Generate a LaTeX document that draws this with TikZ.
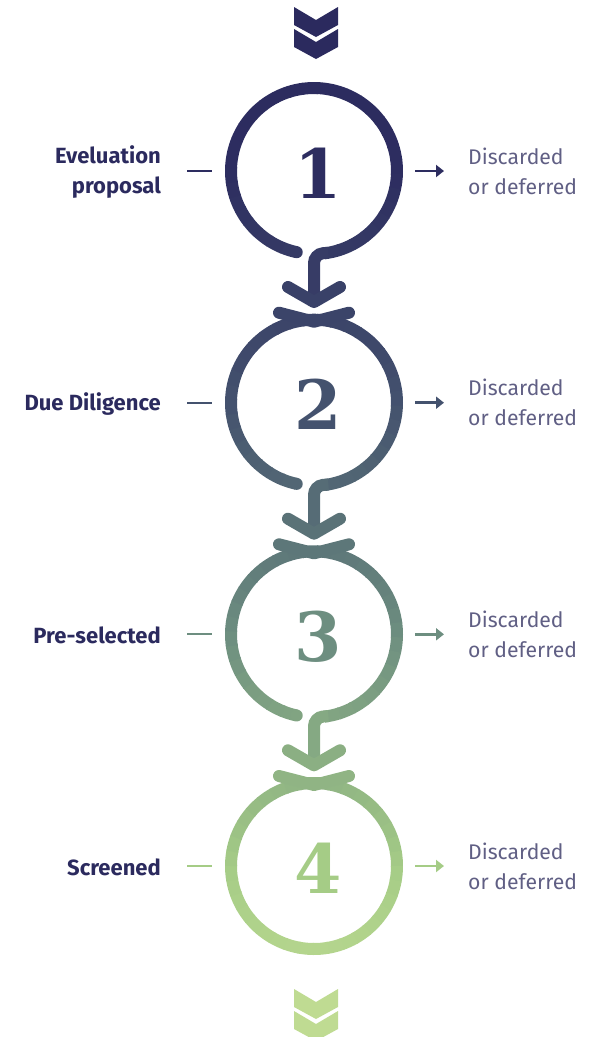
\documentclass[tikz,border=0pt]{standalone}
\usepackage{fontspec}
\setmainfont{Fira Sans}
\newfontfamily\numfont{DejaVu Serif}
\usetikzlibrary{arrows.meta}
\definecolor{labelnavy}{RGB}{43,42,94}
\definecolor{sidegray}{RGB}{96,95,132}
\definecolor{sA}{RGB}{43,42,94}
\definecolor{sB}{RGB}{45,45,96}
\definecolor{sC}{RGB}{68,82,110}
\definecolor{sD}{RGB}{110,143,128}
\definecolor{sE}{RGB}{165,204,134}
\definecolor{sF}{RGB}{196,222,148}
\newcommand\setgc[2]{%
  \pgfmathsetmacro\gy{#1}%
  \ifdim\gy pt<170pt
    \pgfmathtruncatemacro\gp{\gy/170*100}\colorlet{#2}{sB!\gp!sA}%
  \else\ifdim\gy pt<405pt
    \pgfmathtruncatemacro\gp{(\gy-170)/235*100}\colorlet{#2}{sC!\gp!sB}%
  \else\ifdim\gy pt<637pt
    \pgfmathtruncatemacro\gp{(\gy-405)/232*100}\colorlet{#2}{sD!\gp!sC}%
  \else\ifdim\gy pt<866pt
    \pgfmathtruncatemacro\gp{(\gy-637)/229*100}\colorlet{#2}{sE!\gp!sD}%
  \else
    \pgfmathtruncatemacro\gp{(\gy-866)/171*100}\colorlet{#2}{sF!\gp!sE}%
  \fi\fi\fi\fi}
\tikzset{
  thick stroke/.style={line width=12pt},
  leftlabel/.style={anchor=east,align=right,inner sep=0pt,text=labelnavy,
    font=\bfseries\fontsize{22}{30}\selectfont},
  rightlabel/.style={anchor=west,align=left,inner sep=0pt,text=sidegray,
    font=\fontsize{21.2}{30}\selectfont},
  numlabel/.style={inner sep=0pt,font=\numfont\bfseries\fontsize{68}{68}\selectfont},
}
\begin{document}
\begin{tikzpicture}[x=1pt,y=1pt]
\useasboundingbox (0,0) rectangle (596,-1037);
% top double chevron
\setgc{20}{gc}
\fill[gc] (294,-7) -- (316,-20) -- (338,-7) -- (338,-25) -- (316,-37) -- (294,-25) -- cycle;
\fill[gc] (294,-29) -- (316,-42) -- (338,-29) -- (338,-47) -- (316,-59) -- (294,-47) -- cycle;
% bottom double chevron
\setgc{1010}{gc}
\fill[gc] (294,-989) -- (316,-1002) -- (338,-989) -- (338,-1007) -- (316,-1019) -- (294,-1007) -- cycle;
\fill[gc] (294,-1011) -- (316,-1024) -- (338,-1011) -- (338,-1029) -- (316,-1041) -- (294,-1029) -- cycle;
% circles
\foreach \c/\k in {171/1,402.7/2,634.3/3,866/4}{
  \ifnum\k<4 \def\sa{258}\def\nseg{34}\else \def\sa{270}\def\nseg{36}\fi
  \foreach \i in {1,...,\nseg}{
    \pgfmathsetmacro\as{\sa-(\i-1)*10}
    \pgfmathsetmacro\aend{\sa-\i*10-0.8}
    \pgfmathsetmacro\am{\sa-(\i-0.5)*10}
    \setgc{\c-83*sin(\am)}{gc}
    \draw[gc,thick stroke,line cap=butt] (314,-\c) ++(\as:83) arc[start angle=\as,end angle=\aend,radius=83];
  }
  \ifnum\k<4
    \setgc{\c+81}{gc}
    \fill[gc] (314,-\c) ++(258:83) circle (6);
    \setgc{\c+100}{gc}
    \draw[gc,thick stroke,line cap=butt,rounded corners=9] (314,-\c) ++(-80:83) -- (314,-\c-83) -- (314,-\c-131);
    \setgc{\c+124}{gc}
    \draw[gc,thick stroke,line cap=round,line join=round] (288,-\c-116) -- (314,-\c-131) -- (340,-\c-116);
  \fi
  \ifnum\k>1
    \setgc{\c-88}{gc}
    \draw[gc,thick stroke,line cap=round,line join=round] (279,-\c+90) -- (314,-\c+81) -- (349,-\c+90);
  \fi
  \setgc{\c}{gc}
  \draw[gc,line width=2pt] (187,-\c) -- (212,-\c);
  \draw[gc,line width=2.6pt,-{Triangle[length=8pt,width=12pt]}] (415,-\c) -- (444,-\c);
  \node[numlabel,text=gc] (n\k) at (318,-\c-2) {\k};
  \node[rightlabel] (r\k) at (468,-\c) {Discarded\\or deferred};
}
\node[leftlabel] (l1) at (161,-172) {Eveluation\\proposal};
\node[leftlabel] (l2) at (161,-403.7) {Due Diligence};
\node[leftlabel] (l3) at (161,-635.3) {Pre-selected};
\node[leftlabel] (l4) at (161,-867) {Screened};
\end{tikzpicture}
\end{document}
